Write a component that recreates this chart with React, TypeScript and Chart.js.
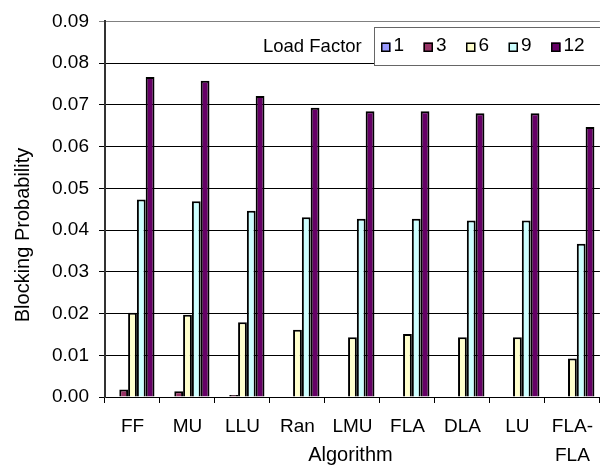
import React, { useEffect, useRef } from "react";
import { Chart, registerables } from "chart.js";

Chart.register(...registerables);

const categories: (string | string[])[] = ["FF", "MU", "LLU", "Ran", "LMU", "FLA", "DLA", "LU", ["FLA-", "FLA"]];
const seriesLabels = ["1", "3", "6", "9", "12"];
const lf1 = [0, 0, 0, 0, 0, 0, 0, 0, 0];
const lf3 = [0.0018, 0.0014, 0.0005, 0, 0, 0, 0, 0, 0];
const lf6 = [0.0202, 0.0197, 0.0179, 0.0161, 0.0143, 0.0151, 0.0143, 0.0143, 0.0092];
const lf9 = [0.0473, 0.0469, 0.0446, 0.0431, 0.0427, 0.0427, 0.0423, 0.0423, 0.0367];
const lf12 = [0.0767, 0.0758, 0.0721, 0.0693, 0.0685, 0.0685, 0.068, 0.068, 0.0647];
const seriesColors = ["#9999FF", "#993366", "#FFFFCC", "#CCFFFF", "#660066"];
const yTitle = "Blocking Probability";
const xTitle = "Algorithm";
const legendTitle = "Load Factor";

const FONT = "'Liberation Sans', Arial, sans-serif";

const overlayPlugin = {
  id: "overlay",
  afterDraw(chart: any) {
    const ctx = chart.ctx;
    const ca = chart.chartArea;
    ctx.save();
    // Y title
    ctx.fillStyle = "#000";
    ctx.font = `20px ${FONT}`;
    ctx.textAlign = "center";
    ctx.textBaseline = "middle";
    ctx.save();
    ctx.translate(23, 235);
    ctx.rotate(-Math.PI / 2);
    ctx.fillText(yTitle, 0, 0);
    ctx.restore();
    // X title
    ctx.fillText(xTitle, (ca.left + ca.right) / 2 - 2, 455);
    // Legend title
    ctx.font = `18.5px ${FONT}`;
    ctx.textAlign = "left";
    ctx.fillText(legendTitle, 263, 47);
    // Legend box
    ctx.fillStyle = "#fff";
    ctx.fillRect(374, 27, 240, 38);
    ctx.strokeStyle = "#666";
    ctx.lineWidth = 1;
    ctx.strokeRect(374.5, 27.5, 240, 38);
    ctx.font = `19px ${FONT}`;
    ctx.textBaseline = "alphabetic";
    seriesLabels.forEach((lab, i) => {
      const x = 381 + i * 42.5;
      ctx.fillStyle = seriesColors[i];
      ctx.fillRect(x, 42.5, 9.5, 9.5);
      ctx.strokeStyle = "#000";
      ctx.lineWidth = 1.5;
      ctx.strokeRect(x + 0.75, 43.25, 8, 8);
      ctx.fillStyle = "#000";
      ctx.fillText(lab, x + 12.5, 51);
    });
    ctx.restore();
  },
};

export default function App() {
  const ref = useRef<HTMLCanvasElement>(null);
  useEffect(() => {
    if (!ref.current) return;
    const data = [lf1, lf3, lf6, lf9, lf12];
    const chart = new Chart(ref.current, {
      type: "bar",
      data: {
        labels: categories as any,
        datasets: data.map((d, i) => ({
          label: seriesLabels[i],
          data: d,
          backgroundColor: seriesColors[i],
          borderColor: "#000",
          borderWidth: 2,
          categoryPercentage: 0.8,
          barPercentage: 1.0,
        })),
      },
      options: {
        responsive: false,
        animation: false,
        layout: { padding: { top: 19, left: 0, right: 0, bottom: 0 } },
        plugins: { legend: { display: false }, tooltip: { enabled: false } },
        scales: {
          x: {
            offset: true,
            grid: {
              display: true,
              drawOnChartArea: false,
              drawTicks: true,
              tickLength: 6,
              color: "#000",
              offset: true,
            },
            border: { display: true, color: "#000", width: 1 },
            ticks: {
              font: { family: FONT, size: 19, lineHeight: 1.5 },
              color: "#000",
              padding: 10,
              maxRotation: 0,
              autoSkip: false,
            },
            afterFit: (s: any) => {
              s.height = 70;
            },
          },
          y: {
            min: 0,
            max: 0.09,
            ticks: {
              stepSize: 0.01,
              callback: (v: any) => Number(v).toFixed(2),
              font: { family: FONT, size: 19 },
              color: "#000",
              padding: 10,
            },
            grid: {
              color: (c: any) => (c.tick && c.tick.value > 0.0895 ? "#808080" : "#000"),
              tickLength: 6,
              lineWidth: 1,
            },
            border: { display: true, color: "#333", width: 2 },
            afterFit: (s: any) => {
              s.width = 105;
            },
          },
        },
      } as any,
      plugins: [overlayPlugin],
    });
    return () => chart.destroy();
  }, []);
  return (
    <div style={{ position: "fixed", left: 0, top: 0, width: 600, height: 467, overflow: "hidden", background: "#fff" }}>
      <canvas ref={ref} width={603} height={467} style={{ display: "block" }} />
    </div>
  );
}
